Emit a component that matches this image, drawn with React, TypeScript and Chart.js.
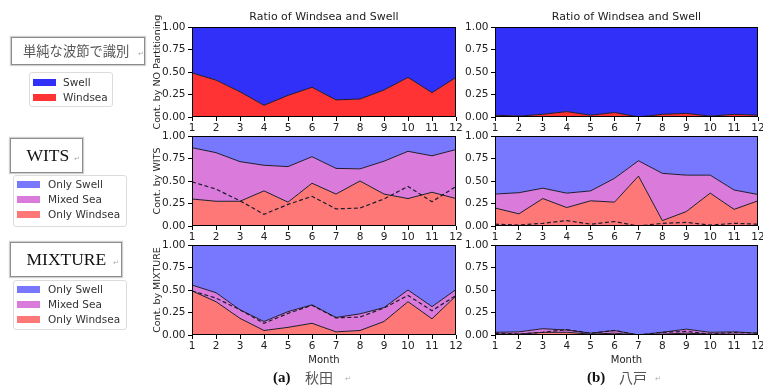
import React, { useEffect, useRef } from "react";
import { Chart, registerables } from "chart.js";

Chart.register(...registerables);

// ---------- data ----------
const months = ["1", "2", "3", "4", "5", "6", "7", "8", "9", "10", "11", "12"];

// NO partitioning: windsea share
const akitaNoWind = [0.49, 0.41, 0.28, 0.13, 0.24, 0.33, 0.19, 0.2, 0.3, 0.44, 0.27, 0.44];
const hachiNoWind = [0.02, 0.01, 0.03, 0.06, 0.02, 0.05, 0.0, 0.03, 0.04, 0.01, 0.03, 0.02];

// WITS: only windsea / mixed sea shares
const akitaWitsWind = [0.3, 0.275, 0.275, 0.39, 0.265, 0.475, 0.355, 0.5, 0.355, 0.305, 0.375, 0.305];
const akitaWitsMixed = [0.57, 0.54, 0.44, 0.285, 0.395, 0.295, 0.285, 0.135, 0.365, 0.525, 0.405, 0.545];
const hachiWitsWind = [0.2, 0.135, 0.305, 0.205, 0.28, 0.265, 0.555, 0.06, 0.16, 0.365, 0.185, 0.28];
const hachiWitsMixed = [0.155, 0.235, 0.115, 0.16, 0.11, 0.265, 0.17, 0.525, 0.405, 0.2, 0.215, 0.07];

// MIXTURE: only windsea / mixed sea shares
const akitaMixWind = [0.49, 0.37, 0.185, 0.05, 0.085, 0.13, 0.035, 0.05, 0.15, 0.37, 0.18, 0.435];
const akitaMixMixed = [0.065, 0.1, 0.095, 0.1, 0.175, 0.205, 0.16, 0.185, 0.155, 0.13, 0.135, 0.07];
const hachiMixWind = [0.01, 0.01, 0.03, 0.03, 0.01, 0.02, 0.0, 0.01, 0.02, 0.01, 0.01, 0.005];
const hachiMixMixed = [0.02, 0.025, 0.04, 0.025, 0.01, 0.03, 0.0, 0.02, 0.045, 0.02, 0.025, 0.015];

const panelTitle = "Ratio of Windsea and Swell";
const yTitles = ["Cont. by NO Partitioning", "Cont. by WITS", "Cont. by MIXTURE"];
const xTitle = "Month";

// ---------- styles ----------
const W = 763;
const H = 387;
const BLUE = "#3030f8";
const RED = "#ff3333";
const LBLUE = "#7878ff";
const LRED = "#ff7878";
const MIX = "#da7ada";
const LINE = "#1c1c2e";
const TXT = "#222";
const FONT = "'DejaVu Sans', sans-serif";

const swellOf = (w: number[], m?: number[]) =>
  w.map((v, i) => 1 - v - (m ? m[i] : 0));

type Panel = {
  left: number;
  right: number;
  top: number;
  bottom: number;
  title?: string;
  yTitle?: string;
  xTitle?: string;
  datasets: any[];
};

const twoPart = (wind: number[]) => [
  {
    label: "Windsea",
    data: wind,
    stack: "main",
    fill: "origin",
    backgroundColor: RED,
    borderColor: LINE,
    borderWidth: 1,
  },
  {
    label: "Swell",
    data: swellOf(wind),
    stack: "main",
    fill: "-1",
    backgroundColor: BLUE,
    borderColor: "rgba(0,0,0,0)",
    borderWidth: 0,
  },
];

const threePart = (ref: number[], wind: number[], mixed: number[]) => [
  {
    label: "NO Partitioning",
    data: ref,
    stack: "ref",
    fill: false,
    borderColor: LINE,
    borderWidth: 1.2,
    borderDash: [4, 2.5],
  },
  {
    label: "Only Windsea",
    data: wind,
    stack: "main",
    fill: "origin",
    backgroundColor: LRED,
    borderColor: LINE,
    borderWidth: 1,
  },
  {
    label: "Mixed Sea",
    data: mixed,
    stack: "main",
    fill: "-1",
    backgroundColor: MIX,
    borderColor: LINE,
    borderWidth: 1,
  },
  {
    label: "Only Swell",
    data: swellOf(wind, mixed),
    stack: "main",
    fill: "-1",
    backgroundColor: LBLUE,
    borderColor: "rgba(0,0,0,0)",
    borderWidth: 0,
  },
];

const L_COL = { left: 192, right: 456 };
const R_COL = { left: 495, right: 758 };
const ROWS = [
  { top: 27, bottom: 117 },
  { top: 136, bottom: 226 },
  { top: 245, bottom: 335 },
];

const panels: Panel[] = [
  { ...L_COL, ...ROWS[0], title: panelTitle, yTitle: yTitles[0], datasets: twoPart(akitaNoWind) },
  { ...R_COL, ...ROWS[0], title: panelTitle, datasets: twoPart(hachiNoWind) },
  { ...L_COL, ...ROWS[1], yTitle: yTitles[1], datasets: threePart(akitaNoWind, akitaWitsWind, akitaWitsMixed) },
  { ...R_COL, ...ROWS[1], datasets: threePart(hachiNoWind, hachiWitsWind, hachiWitsMixed) },
  { ...L_COL, ...ROWS[2], yTitle: yTitles[2], xTitle, datasets: threePart(akitaNoWind, akitaMixWind, akitaMixMixed) },
  { ...R_COL, ...ROWS[2], xTitle, datasets: threePart(hachiNoWind, hachiMixWind, hachiMixMixed) },
];

const frame = {
  id: "frame",
  afterDatasetsDraw(chart: any) {
    const { ctx, chartArea } = chart;
    ctx.save();
    ctx.strokeStyle = "#000";
    ctx.lineWidth = 1;
    ctx.strokeRect(
      Math.round(chartArea.left) + 0.5,
      Math.round(chartArea.top) + 0.5,
      Math.round(chartArea.right - chartArea.left) - 1,
      Math.round(chartArea.bottom - chartArea.top) - 1
    );
    ctx.restore();
  },
};

function buildConfig(p: Panel): any {
  const YW = 40;
  const XH = p.xTitle ? 31 : 20;
  const TITLE_LH = 13.2;
  const TITLE_PB = 3.5;
  const titleH = p.title ? TITLE_LH + TITLE_PB : 0;
  return {
    type: "line",
    data: { labels: months, datasets: p.datasets },
    plugins: [frame],
    options: {
      responsive: false,
      animation: false,
      events: [],
      elements: { point: { radius: 0 }, line: { tension: 0 } },
      layout: {
        autoPadding: false,
        padding: {
          left: p.left - YW,
          right: W - p.right,
          top: p.top - titleH,
          bottom: H - p.bottom - XH,
        },
      },
      plugins: {
        legend: { display: false },
        tooltip: { enabled: false },
        title: {
          display: !!p.title,
          text: p.title || "",
          fullSize: false,
          color: TXT,
          font: { family: FONT, size: 11, weight: "normal", lineHeight: 1.2 },
          padding: { top: 0, bottom: TITLE_PB },
        },
      },
      scales: {
        x: {
          type: "category",
          offset: false,
          grid: {
            offset: false,
            drawOnChartArea: false,
            drawTicks: true,
            tickLength: 4,
            tickColor: "#000",
            color: "#000",
          },
          border: { display: false },
          ticks: {
            autoSkip: false,
            maxRotation: 0,
            padding: 1,
            color: TXT,
            font: { family: FONT, size: 10.5 },
          },
          title: {
            display: !!p.xTitle,
            text: p.xTitle || "",
            color: TXT,
            padding: 0,
            font: { family: FONT, size: 10 },
          },
          afterFit: (s: any) => {
            s.height = XH;
            s.paddingLeft = 0;
            s.paddingRight = 0;
          },
        },
        y: {
          stacked: true,
          min: 0,
          max: 1,
          grid: {
            drawOnChartArea: false,
            drawTicks: true,
            tickLength: 4,
            tickColor: "#000",
            color: "#000",
          },
          border: { display: false },
          ticks: {
            stepSize: 0.25,
            padding: 2.5,
            color: TXT,
            font: { family: FONT, size: 10.5 },
            callback: (v: any) => Number(v).toFixed(2),
          },
          title: {
            display: !!p.yTitle,
            text: p.yTitle || "",
            color: TXT,
            padding: 0,
            font: { family: FONT, size: 9.5 },
          },
          afterFit: (s: any) => {
            s.width = YW;
            s.paddingTop = 0;
            s.paddingBottom = 0;
          },
        },
      },
    },
  };
}

// ---------- HTML side pieces ----------
const abs = (o: React.CSSProperties): React.CSSProperties => ({ position: "absolute", ...o });

function Mark({ left, top }: { left: number; top: number }) {
  return (
    <span style={abs({ left, top, fontSize: 7, color: "#aaa", fontFamily: FONT, lineHeight: "8px" })}>↵</span>
  );
}

function TitleBox({
  left, top, width, height, text, font, size, color, textLeft, markLeft,
}: {
  left: number; top: number; width: number; height: number; text: string;
  font: string; size: number; color: string; textLeft: number; markLeft: number;
}) {
  return (
    <>
      <div
        style={abs({
          left, top, width, height, boxSizing: "border-box",
          border: "1.5px solid #8c8c8c", background: "#fff",
          boxShadow: "0 0 1px 1px #d0d0d0",
        })}
      />
      <span
        style={abs({
          left: textLeft, top: top + height / 2 - size * 0.6, fontFamily: font,
          fontSize: size, lineHeight: `${size * 1.2}px`, color, whiteSpace: "nowrap",
        })}
      >
        {text}
      </span>
      <Mark left={markLeft} top={top + height / 2 - 1} />
    </>
  );
}

type LegendItem = { label: string; color: string; cy: number };

function Legend({
  left, top, width, height, items, patchLeft, textLeft,
}: {
  left: number; top: number; width: number; height: number;
  items: LegendItem[]; patchLeft: number; textLeft: number;
}) {
  return (
    <>
      <div
        style={abs({
          left, top, width, height, boxSizing: "border-box",
          border: "1px solid #dcdcdc", borderRadius: 3, background: "#fff",
        })}
      />
      {items.map((it) => (
        <React.Fragment key={it.label}>
          <div style={abs({ left: patchLeft, top: it.cy - 3.5, width: 23, height: 7, background: it.color })} />
          <span
            style={abs({
              left: textLeft, top: it.cy - 6.5, fontFamily: FONT, fontSize: 10.5,
              lineHeight: "13px", color: "#333", whiteSpace: "nowrap",
            })}
          >
            {it.label}
          </span>
        </React.Fragment>
      ))}
    </>
  );
}

export default function App() {
  const refs = useRef<(HTMLCanvasElement | null)[]>([]);

  useEffect(() => {
    Chart.defaults.font.family = FONT;
    const charts = panels.map((p, i) => new Chart(refs.current[i] as HTMLCanvasElement, buildConfig(p)));
    return () => charts.forEach((c) => c.destroy());
  }, []);

  const serif = "'Liberation Serif', 'Times New Roman', serif";
  const cjk = "'Noto Sans CJK JP', sans-serif";

  return (
    <div style={{ position: "fixed", left: 0, top: 0, width: W, height: H, background: "#fff", overflow: "hidden" }}>
      {panels.map((_, i) => (
        <canvas
          key={i}
          ref={(el) => {
            refs.current[i] = el;
          }}
          width={W}
          height={H}
          style={{ position: "absolute", left: 0, top: 0, width: W, height: H }}
        />
      ))}

      <TitleBox left={11} top={37} width={134} height={28} text="単純な波節で識別" font={cjk} size={13.3}
        color="#555" textLeft={23} markLeft={138} />
      <Legend left={29} top={72} width={84} height={35} patchLeft={33} textLeft={63}
        items={[
          { label: "Swell", color: BLUE, cy: 82.5 },
          { label: "Windsea", color: RED, cy: 97.5 },
        ]} />

      <TitleBox left={10} top={138} width={73} height={35} text="WITS" font={serif} size={17.5}
        color="#111" textLeft={26.5} markLeft={74} />
      <Legend left={13} top={175} width={114} height={52} patchLeft={17} textLeft={48}
        items={[
          { label: "Only Swell", color: LBLUE, cy: 184.5 },
          { label: "Mixed Sea", color: MIX, cy: 199.5 },
          { label: "Only Windsea", color: LRED, cy: 214 },
        ]} />

      <TitleBox left={10} top={242} width={112} height={35} text="MIXTURE" font={serif} size={17.5}
        color="#111" textLeft={26.5} markLeft={113} />
      <Legend left={13} top={280} width={114} height={50} patchLeft={17} textLeft={48}
        items={[
          { label: "Only Swell", color: LBLUE, cy: 289.5 },
          { label: "Mixed Sea", color: MIX, cy: 304 },
          { label: "Only Windsea", color: LRED, cy: 319.5 },
        ]} />

      <span style={abs({ left: 273, top: 368, fontFamily: serif, fontWeight: "bold", fontSize: 15, lineHeight: "18px", color: "#111" })}>(a)</span>
      <span style={abs({ left: 305, top: 368, fontFamily: cjk, fontSize: 14, lineHeight: "18px", color: "#555" })}>秋田</span>
      <Mark left={345} top={375} />
      <span style={abs({ left: 587, top: 368, fontFamily: serif, fontWeight: "bold", fontSize: 15, lineHeight: "18px", color: "#111" })}>(b)</span>
      <span style={abs({ left: 619, top: 368, fontFamily: cjk, fontSize: 14, lineHeight: "18px", color: "#555" })}>八戸</span>
      <Mark left={655} top={375} />
    </div>
  );
}
